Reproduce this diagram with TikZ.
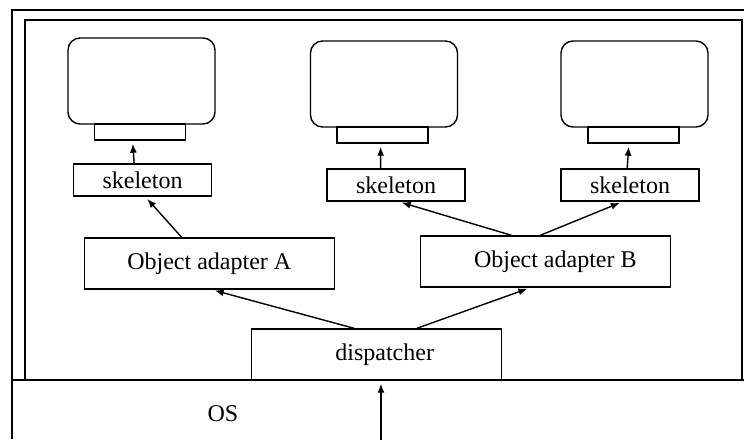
\documentclass[tikz,border=0pt]{standalone}
\usepackage{fontspec}
\setmainfont{Liberation Serif}
\usepackage{tikz}
\usetikzlibrary{calc}
\usetikzlibrary{arrows.meta}
\def\MonWidth{73.5pt}
\def\MonHeight{43pt}
\def\BoxWidth{125pt}
\def\BoxHeight{25.5pt}

\begin{document}
\begin{tikzpicture}[x=0.5pt,y=-0.5pt,line width=0.7pt,font=\fontsize{12}{14}\selectfont,
		monitor/.style={draw,rounded corners=6pt,minimum width=\MonWidth,minimum height=\MonHeight,inner sep=0pt},
		stand/.style={draw,minimum width=45.5pt,minimum height=8pt,inner sep=0pt},
		skel/.style={draw,minimum width=69pt,minimum height=16pt,inner sep=0pt},
		bigbox/.style={draw,minimum width=\BoxWidth,minimum height=\BoxHeight,inner sep=0pt},
		arr/.style={-{Latex[length=4.5pt,width=3.5pt]},shorten >=1.5pt}]
			\useasboundingbox (0,0) rectangle (744,439);
			% frames
			\draw (744,10) -- (12,10) -- (12,439);
			\draw (25,380) rectangle (742,20);
			\draw (12,380) -- (744,380);
			% 
			\node[monitor] (monA) at (141.5,81) {};
			\node[monitor] (monB) at (384,84) {};
			\node[monitor] (monC) at (634.5,84) {};
			\node[stand] (standA) at (140,132) {};
			\node[stand] (standB) at (382.5,135) {};
			\node[stand] (standC) at (633.5,135) {};
			% 
			\node[skel] (skelA) at (142.5,180) {skeleton};
			\node[skel] (skelB) at (396,185) {skeleton};
			\node[skel] (skelC) at (630,185) {skeleton};
			% 
			\node[bigbox] (oaA) at (209.3,263.5) {Object adapter A};
			\node[bigbox] (oaB) at (545.3,261.5) {\hspace{10pt}Object adapter B};
			\node[bigbox] (disp) at (376.7,354.5) {\hspace{8pt}dispatcher};
			\node (os) at (223,414) {OS};
			\coordinate (dispin) at ($(disp.south west)!0.517!(disp.south east)$);
			\coordinate (in) at ($(dispin)+(0,59)$);
			% 
			\draw[arr] ($(skelA.north west)!0.44!(skelA.north east)$) -- ($(standA.south west)!0.42!(standA.south east)$);
			\draw[arr] ($(skelB.north west)!0.39!(skelB.north east)$) -- ($(standB.south west)!0.48!(standB.south east)$);
			\draw[arr] ($(skelC.north west)!0.48!(skelC.north east)$) -- ($(standC.south west)!0.45!(standC.south east)$);
			% 
			\draw[arr] ($(oaA.north west)!0.39!(oaA.north east)$) -- ($(skelA.south west)!0.52!(skelA.south east)$);
			\draw[arr] ($(oaB.north west)!0.365!(oaB.north east)$) -- ($(skelB.south west)!0.52!(skelB.south east)$);
			\draw[arr] ($(oaB.north west)!0.48!(oaB.north east)$) -- ($(skelC.south west)!0.447!(skelC.south east)$);
			% 
			\draw[arr] ($(disp.north west)!0.41!(disp.north east)$) -- ($(oaA.south west)!0.51!(oaA.south east)$);
			\draw[arr] ($(disp.north west)!0.66!(disp.north east)$) -- ($(oaB.south west)!0.44!(oaB.south east)$);
			\draw[arr] (in) -- (dispin);
\end{tikzpicture}
\end{document}
